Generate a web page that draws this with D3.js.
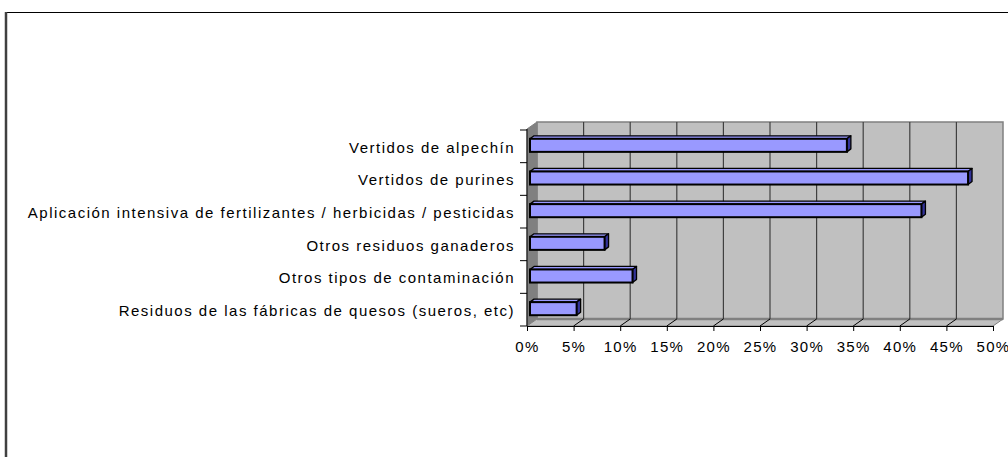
<!DOCTYPE html>
<html><head><meta charset="utf-8">
<script src="https://cdn.jsdelivr.net/npm/d3@7"></script>
<style>body{margin:0;background:#fff}svg{display:block}</style>
</head><body>
<svg id="c" width="1008" height="457"></svg>
<script>
const categories = [
  "Vertidos de alpechín",
  "Vertidos de purines",
  "Aplicación intensiva de fertilizantes / herbicidas / pesticidas",
  "Otros residuos ganaderos",
  "Otros tipos de contaminación",
  "Residuos de las fábricas de quesos (sueros, etc)"
];
const values = [0.34, 0.47, 0.42, 0.08, 0.11, 0.05];
const tickValues = [0,0.05,0.10,0.15,0.20,0.25,0.30,0.35,0.40,0.45,0.50];

const svg = d3.select("#c");
// outer border
svg.append("rect").attr("x",6.5).attr("y",12.5).attr("width",1010).attr("height",460)
  .attr("fill","none").attr("stroke","#000").attr("stroke-width",1);
svg.append("line").attr("x1",6).attr("x2",6).attr("y1",12).attr("y2",457)
  .attr("stroke","#404040").attr("stroke-width",2.5);

const x = d3.scaleLinear().domain([0,0.5]).range([527,993]);
const y = d3.scaleBand().domain(categories).range([130,326]).paddingInner(0.6).paddingOuter(0.3);
const yTop = 129, yBot = 326;
const DX = 10, DY = -7;

// walls
const g = svg.append("g");
g.append("polygon").attr("points",[[x(0)+DX,yTop+DY],[x(0.5)+DX,yTop+DY],[x(0.5)+DX,yBot+DY],[x(0)+DX,yBot+DY]].join(" "))
  .attr("fill","#c0c0c0").attr("stroke","#808080").attr("stroke-width",1.5);
g.append("polygon").attr("points",[[x(0),yTop],[x(0)+DX,yTop+DY],[x(0)+DX,yBot+DY],[x(0),yBot]].join(" "))
  .attr("fill","#808080").attr("stroke","#808080");
g.append("polygon").attr("points",[[x(0),yBot],[x(0)+DX,yBot+DY],[x(0.5)+DX,yBot+DY],[x(0.5),yBot]].join(" "))
  .attr("fill","#c0c0c0").attr("stroke","#808080").attr("stroke-width",1);
g.append("line").attr("x1",x(0)+DX).attr("x2",x(0.5)+DX).attr("y1",yBot+DY).attr("y2",yBot+DY)
  .attr("stroke","#808080").attr("stroke-width",2.5);

// gridlines on back wall
g.selectAll(".grid").data(tickValues.slice(1,-1)).join("line")
  .attr("x1",d=>x(d)+DX).attr("x2",d=>x(d)+DX).attr("y1",yTop+DY).attr("y2",yBot+DY)
  .attr("stroke","#404040").attr("stroke-width",1.2);
// floor diagonals
g.selectAll(".diag").data(tickValues.slice(1,-1)).join("line")
  .attr("x1",d=>x(d)).attr("x2",d=>x(d)+DX).attr("y1",yBot).attr("y2",yBot+DY)
  .attr("stroke","#000").attr("stroke-width",1);

// x axis
const xAxis = d3.axisBottom(x).tickValues(tickValues).tickFormat(d3.format(".0%")).tickSize(5).tickSizeOuter(0);
const ax = svg.append("g").attr("transform",`translate(0,${yBot})`).call(xAxis);
ax.select(".domain").attr("stroke","#000");
ax.selectAll(".tick line").attr("stroke","#000");
ax.selectAll("text").attr("font-family","Liberation Sans, Arial, sans-serif").attr("font-size",15)
  .attr("letter-spacing","1.3px").attr("fill","#000").attr("dy","1.2em");

// y axis
const yAxis = d3.axisLeft(y).tickSize(0).tickPadding(12);
const ay = svg.append("g").attr("transform",`translate(${x(0)},1.5)`).call(yAxis);
ay.select(".domain").remove();
ay.selectAll("text").attr("font-family","Liberation Sans, Arial, sans-serif").attr("font-size",15)
  .attr("letter-spacing","1.5px").attr("fill","#000");
const bounds = d3.range(categories.length+1).map(i=>130+i*(196/categories.length));
svg.append("g").selectAll("line").data(bounds).join("line")
  .attr("x1",x(0)-7).attr("x2",x(0)).attr("y1",d=>d).attr("y2",d=>d).attr("stroke","#000");
svg.append("line").attr("x1",x(0)).attr("x2",x(0)).attr("y1",yTop).attr("y2",yBot).attr("stroke","#000");

// bars
const ox = 3, oy = -1, bdx = 4, bdy = -3;
const bars = svg.append("g").selectAll("g").data(categories.map((c,i)=>({c,v:values[i]}))).join("g");
bars.append("polygon").attr("points",d=>{const x0=x(0)+ox,x1=x(d.v)+ox,y0=y(d.c)+oy;
  return [[x0,y0],[x0+bdx,y0+bdy],[x1+bdx,y0+bdy],[x1,y0]].join(" ");})
  .attr("fill","#9999ff").attr("stroke","#000").attr("stroke-width",1.3).attr("stroke-linejoin","round");
bars.append("polygon").attr("points",d=>{const x1=x(d.v)+ox,y0=y(d.c)+oy,y1=y0+y.bandwidth();
  return [[x1,y0],[x1+bdx,y0+bdy],[x1+bdx,y1+bdy],[x1,y1]].join(" ");})
  .attr("fill","#333399").attr("stroke","#000").attr("stroke-width",1.3).attr("stroke-linejoin","round");
bars.append("rect").attr("x",x(0)+ox).attr("y",d=>y(d.c)+oy).attr("width",d=>x(d.v)-x(0))
  .attr("height",y.bandwidth()).attr("fill","#9999ff").attr("stroke","#000").attr("stroke-width",2);
</script>
</body></html>
